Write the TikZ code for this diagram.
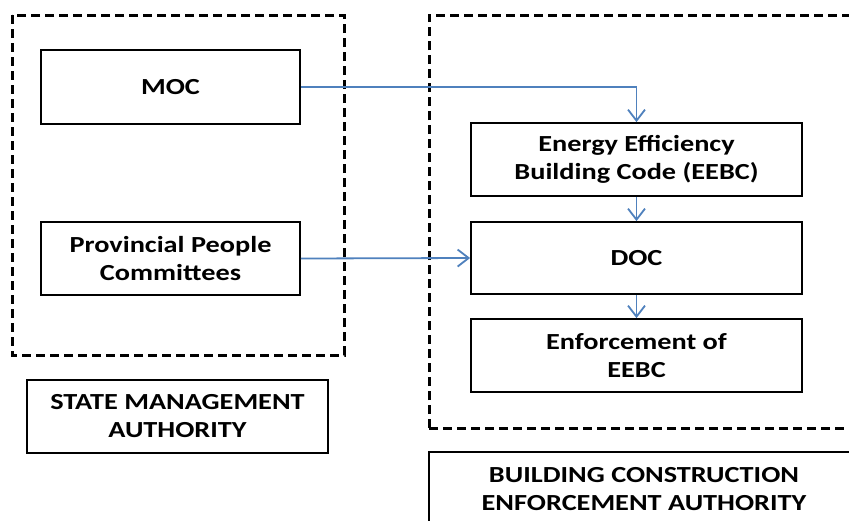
\documentclass[tikz,border=0pt]{standalone}
\usepackage{fontspec}
\setmainfont{Carlito}[FakeStretch=1.23]
\usetikzlibrary{arrows.meta}
\definecolor{arrowblue}{HTML}{4F81BD}
\begin{document}
\begin{tikzpicture}[x=1pt,y=-1pt,
  box/.style={draw=black, line width=1.8pt, minimum width=#1, inner sep=0pt, align=center,
     font=\fontsize{23}{28}\selectfont\bfseries},
  group/.style={draw=black, line width=3pt, dash pattern=on 9pt off 5pt},
  flow/.style={draw=arrowblue, line width=1.8pt, -{Straight Barb[length=11pt,width=17pt,line width=1.8pt]}},
  lbl/.style={align=center, inner sep=0pt, font=\fontsize{23}{28}\selectfont\bfseries}]
\useasboundingbox (0,0) rectangle (849,520);
\clip (0,0) rectangle (849,520);
\fill[white] (0,0) rectangle (849,520);
% groups
\draw[group] (12,15) rectangle (344,355);
\draw[group] (429,428) -- (429,15) -- (880,15);
\draw[group] (429,428) -- (880,428);
% nodes
\node[box=259pt, minimum height=74pt] (moc) at (170.5,87) {MOC};
\node[box=259pt, minimum height=73pt] (ppc) at (170.5,258.5) {Provincial People\\Committees};
\node[box=301pt, minimum height=73pt] (sma) at (177.5,416.5) {STATE MANAGEMENT\\AUTHORITY};
\node[box=331pt, minimum height=73pt] (eebc) at (636.5,159.5) {Energy Efficiency\\Building Code (EEBC)};
\node[box=331pt, minimum height=72pt] (doc) at (636.5,258) {DOC};
\node[box=331pt, minimum height=73pt] (enf) at (636.5,355.5) {Enforcement of\\EEBC};
% bottom authority box (cut by the page edge)
\draw[line width=1.8pt] (429,570) -- (429,452) -- (880,452);
\node[lbl] (bcea) at (644,489) {BUILDING CONSTRUCTION\\ENFORCEMENT AUTHORITY};
% connectors
\draw[flow] (moc.east) -| (eebc.north);
\draw[flow] (ppc.east) -- (doc.west);
\draw[flow] (eebc.south) -- (doc.north);
\draw[flow] (doc.south) -- (enf.north);
\end{tikzpicture}
\end{document}
